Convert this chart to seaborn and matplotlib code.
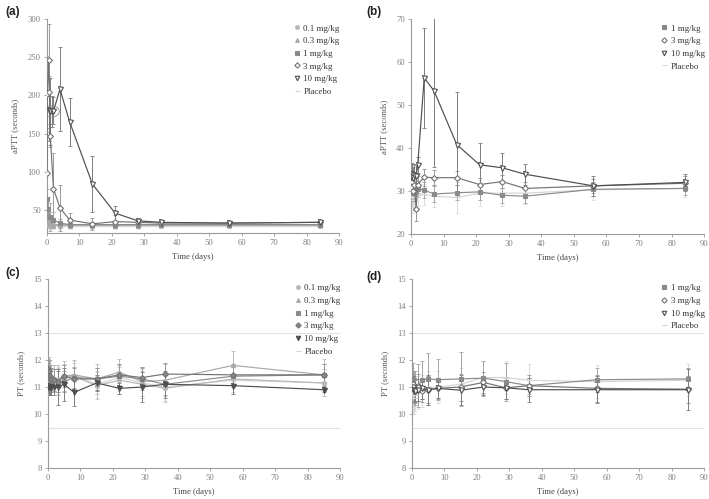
import numpy as np
import pandas as pd
import matplotlib
matplotlib.use("Agg")
import matplotlib.pyplot as plt
import seaborn as sns
from matplotlib.lines import Line2D
from matplotlib.patches import Ellipse

# ---------------- data ----------------
# Panel (a) aPTT, single dose cohorts
a_days_01 = [0, 0.25, 0.5, 1, 2, 4, 7, 14, 21, 28, 35, 56, 84]
a_01 = [30, 31, 30, 30, 30, 30, 30, 30, 30, 30, 30, 30, 30]
a_01_err = [4, 4, 4, 4, 4, 4, 4, 4, 4, 4, 3, 3, 3]
a_days_03 = [0, 0.25, 0.5, 1, 2, 4, 7, 14, 21, 28, 35, 56, 84]
a_03 = [33, 36, 34, 32, 31, 31, 31, 31, 31, 31, 31, 31, 31]
a_03_err = [5, 6, 5, 4, 4, 4, 4, 4, 4, 4, 3, 3, 3]
a_days_1 = [0, 0.25, 1, 2, 4, 7, 14, 21, 28, 35, 56, 84]
a_1 = [65, 52, 41, 37, 33, 31, 31, 31, 31, 31, 31, 31]
a_1_err = [12, 15, 18, 10, 5, 4, 4, 4, 4, 3, 3, 3]
a_days_3 = [0, 0.1, 0.5, 0.75, 1, 2, 4, 7, 14, 21, 28, 35, 56, 84]
a_3 = [98, 202, 246, 205, 147, 78, 53, 37, 32, 35, 34, 33, 33, 34]
a_3_err = [60, 50, 47, 20, 15, 47, 30, 9, 8, 8, 5, 3, 3, 3]
a_days_10 = [0.5, 1, 1.5, 2, 4, 7, 14, 21, 28, 35, 56, 84]
a_10 = [181, 179, 179, 180, 208, 165, 84, 46, 36, 34, 33, 34]
a_10_err = [40, 44, 20, 18, 55, 31, 37, 10, 4, 2, 2, 2]
a_days_pl = [0, 0.25, 0.5, 1, 2, 4, 7, 14, 21, 28, 35, 56, 84]
a_pl = [29, 29, 29, 29, 29, 29, 29, 29, 29, 29, 29, 29, 29]
a_pl_err = [4, 4, 4, 4, 4, 4, 4, 4, 4, 4, 3, 3, 3]

# Panel (b) aPTT, multiple dose cohorts
b_days = [0, 0.25, 0.5, 1, 1.5, 2, 4, 7, 14, 21, 28, 35, 56, 84]
b_1 = [29.5, 30.5, 30.0, 29.5, 30.8, 30.5, 30.2, 29.3, 29.6, 29.8, 29.0, 28.8, 30.4, 30.6]
b_1_err = [1.8, 1.8, 1.8, 1.8, 1.8, 1.8, 1.8, 1.8, 1.8, 1.8, 1.8, 1.6, 1.6, 1.6]
b_3 = [31.0, 32.0, 30.0, 31.5, 25.8, 31.5, 33.2, 33.1, 33.1, 31.5, 32.2, 30.6, 31.2, 31.8]
b_3_err = [2.0, 2.0, 2.0, 2.0, 2.8, 2.0, 2.0, 1.8, 1.6, 1.6, 1.6, 1.6, 1.6, 1.6]
b_10 = [33.5, 34.0, 33.0, 33.8, 33.5, 36.0, 56.3, 53.3, 40.8, 36.1, 35.4, 33.9, 31.2, 32.0]
b_10_err = [2.5, 2.5, 2.5, 2.5, 2.5, 1.8, 11.7, 17.7, 12.3, 5.0, 3.5, 2.4, 2.3, 2.0]
b_pl = [28.5, 29.0, 28.0, 29.0, 28.5, 29.0, 29.2, 28.8, 28.5, 29.5, 29.5, 29.5, 30.3, 30.6]
b_pl_err = [3.0, 3.0, 3.0, 3.0, 3.0, 2.5, 2.5, 2.5, 3.5, 3.0, 3.0, 2.5, 2.5, 2.0]

# Panel (c) PT, single dose cohorts
c_days = [0, 0.25, 0.5, 1, 2, 3, 5, 8, 15, 22, 29, 36, 57, 85]
c_01 = [11.3, 11.2, 11.3, 11.2, 11.3, 11.2, 11.35, 11.4, 11.05, 11.25, 11.1, 10.95, 11.3, 11.15]
c_01_err = [0.5, 0.5, 0.5, 0.5, 0.5, 0.5, 0.5, 0.5, 0.5, 0.5, 0.5, 0.5, 0.5, 0.5]
c_03 = [11.4, 11.5, 11.4, 11.3, 11.3, 11.3, 11.4, 11.45, 11.3, 11.55, 11.2, 11.25, 11.8, 11.45]
c_03_err = [0.6, 0.6, 0.6, 0.5, 0.5, 0.5, 0.55, 0.55, 0.55, 0.5, 0.55, 0.6, 0.55, 0.6]
c_1 = [11.2, 11.4, 11.3, 11.2, 11.25, 11.2, 11.2, 11.35, 11.3, 11.4, 11.3, 11.1, 11.4, 11.45]
c_1_err = [0.4, 0.4, 0.4, 0.4, 0.4, 0.4, 0.4, 0.4, 0.4, 0.4, 0.4, 0.4, 0.4, 0.4]
c_3 = [11.65, 11.6, 11.4, 11.3, 11.25, 11.2, 11.4, 11.3, 11.3, 11.45, 11.35, 11.48, 11.45, 11.45]
c_3_err = [0.4, 0.4, 0.4, 0.4, 0.4, 0.4, 0.4, 0.4, 0.4, 0.4, 0.4, 0.4, 0.4, 0.4]
c_10 = [11.0, 11.05, 11.0, 11.0, 11.0, 11.0, 11.1, 10.8, 11.15, 10.95, 11.0, 11.1, 11.05, 10.9]
c_10_err = [0.2, 0.3, 0.3, 0.3, 0.3, 0.65, 0.6, 0.5, 0.3, 0.2, 0.55, 0.5, 0.3, 0.1]
c_pl = [11.3, 11.35, 11.3, 11.2, 11.3, 11.25, 11.3, 11.45, 11.1, 11.35, 11.15, 11.0, 11.25, 11.15]
c_pl_err = [0.6, 0.6, 0.6, 0.5, 0.5, 0.5, 0.5, 0.5, 0.5, 0.5, 0.5, 0.5, 0.5, 0.5]

# Panel (d) PT, multiple dose cohorts
d_days = [0, 0.25, 0.5, 1, 2, 3, 5, 8, 15, 22, 29, 36, 57, 85]
d_1 = [11.0, 11.3, 11.0, 11.0, 11.05, 11.25, 11.3, 11.27, 11.3, 11.33, 11.2, 11.05, 11.27, 11.3]
d_1_err = [0.6, 0.6, 0.6, 0.6, 0.8, 0.7, 0.95, 0.75, 1.0, 0.65, 0.7, 0.3, 0.45, 0.4]
d_3 = [11.0, 11.1, 10.9, 10.85, 11.0, 10.85, 10.9, 10.95, 11.0, 11.17, 10.97, 11.05, 10.95, 10.92]
d_3_err = [0.5, 0.5, 0.5, 0.5, 0.5, 0.4, 0.5, 0.4, 0.5, 0.4, 0.4, 0.4, 0.5, 0.5]
d_10 = [10.95, 11.0, 10.9, 10.85, 10.9, 10.95, 10.9, 10.95, 10.88, 11.0, 10.97, 10.9, 10.9, 10.9]
d_10_err = [0.3, 0.4, 0.4, 0.4, 0.4, 0.4, 0.55, 0.35, 0.55, 0.3, 0.4, 0.45, 0.5, 0.75]
d_pl = [10.9, 10.7, 10.6, 10.7, 10.8, 10.85, 11.0, 11.0, 11.1, 11.35, 11.35, 11.25, 11.2, 11.25]
d_pl_err = [0.8, 0.7, 0.6, 0.6, 0.6, 0.6, 0.6, 0.6, 0.6, 0.6, 0.6, 0.6, 0.6, 0.6]

labels_single = ["0.1 mg/kg", "0.3 mg/kg", "1 mg/kg", "3 mg/kg", "10 mg/kg", "Placebo"]
labels_multi = ["1 mg/kg", "3 mg/kg", "10 mg/kg", "Placebo"]

# ---------------- styles ----------------
STY = {
    "0.1 mg/kg": dict(color="#b8b8b8", ecolor="#c4c4c4", marker="o", mfc="#b8b8b8", ms=3.0),
    "0.3 mg/kg": dict(color="#a8a8a8", ecolor="#bcbcbc", marker="^", mfc="#a8a8a8", ms=3.0),
    "1 mg/kg": dict(color="#8a8a8a", ecolor="#a4a4a4", marker="s", mfc="#8a8a8a", ms=2.8),
    "3 mg/kg": dict(color="#727272", ecolor="#989898", marker="D", mfc="#ffffff", ms=3.0),
    "10 mg/kg": dict(color="#4e4e4e", ecolor="#7c7c7c", marker="v", mfc="#ffffff", ms=3.6),
    "Placebo": dict(color="#d4d4d4", ecolor="#dadada", marker="_", mfc="#d4d4d4", ms=4.0),
}

sns.set_theme(style="white")
plt.rcParams["font.family"] = ["Liberation Serif", "DejaVu Serif"]

fig = plt.figure(figsize=(7.09, 4.99), dpi=100)
axA = fig.add_axes([0.0663, 0.533, 0.412, 0.429])
axB = fig.add_axes([0.580, 0.531, 0.413, 0.431])
axC = fig.add_axes([0.0677, 0.062, 0.412, 0.379])
axD = fig.add_axes([0.581, 0.062, 0.412, 0.379])


def draw(ax, lab, days, vals, errs, face=None):
    s = STY[lab]
    df = pd.DataFrame({"t": days, "v": vals})
    ax.errorbar(days, vals, yerr=errs, fmt="none", ecolor=s["ecolor"],
                elinewidth=0.7, capsize=1.6, capthick=0.6, zorder=2)
    mfc = s["mfc"] if face is None else face
    sns.lineplot(data=df, x="t", y="v", ax=ax, color=s["color"], lw=0.85,
                 marker=s["marker"], markersize=s["ms"], markerfacecolor=mfc,
                 markeredgecolor=s["color"], markeredgewidth=0.8,
                 legend=False, zorder=3, errorbar=None, sort=False)


def style(ax, ylim, yticks, ylabel):
    ax.set_xlim(0, 90)
    ax.set_ylim(*ylim)
    ax.set_xticks(range(0, 91, 10))
    ax.set_yticks(yticks)
    for sp in ["top", "right"]:
        ax.spines[sp].set_visible(False)
    for sp in ["left", "bottom"]:
        ax.spines[sp].set_color("#9a9a9a")
        ax.spines[sp].set_linewidth(0.8)
    ax.tick_params(axis="both", which="major", length=2.5, width=0.6,
                   colors="#9a9a9a", labelsize=6.2, labelcolor="#808080",
                   direction="out", bottom=True, left=True, pad=2)
    ax.set_xlabel("Time (days)", fontsize=6.2, color="#444444", labelpad=4)
    ax.set_ylabel(ylabel, fontsize=6.2, color="#555555", labelpad=6)
    ax.set_facecolor("white")
    ax.grid(False)


def legend(ax, labs, face_map=None):
    hs = []
    for lab in labs:
        s = STY[lab]
        mfc = s["mfc"] if not face_map or lab not in face_map else face_map[lab]
        hs.append(Line2D([], [], ls="none", marker=s["marker"], color=s["color"],
                         markerfacecolor=mfc, markeredgecolor=s["color"],
                         markersize=s["ms"] * 0.9, markeredgewidth=0.8))
    ax.legend(hs, labs, loc="upper right", bbox_to_anchor=(1.02, 1.0), frameon=False,
              fontsize=6.4, handlelength=0.8, handletextpad=0.3,
              labelspacing=0.5, borderaxespad=0.2, labelcolor="#333333")


# (a)
draw(axA, "Placebo", a_days_pl, a_pl, a_pl_err)
draw(axA, "0.1 mg/kg", a_days_01, a_01, a_01_err)
draw(axA, "0.3 mg/kg", a_days_03, a_03, a_03_err)
draw(axA, "1 mg/kg", a_days_1, a_1, a_1_err)
draw(axA, "3 mg/kg", a_days_3, a_3, a_3_err)
draw(axA, "10 mg/kg", a_days_10, a_10, a_10_err)
axA.add_patch(Ellipse((1.2, 179), 5.2, 15, fill=False, ec="#8a8a8a", lw=0.6, zorder=4))
style(axA, (20, 300), [50, 100, 150, 200, 250, 300], "aPTT (seconds)")
legend(axA, labels_single)

# (b)
draw(axB, "Placebo", b_days, b_pl, b_pl_err)
draw(axB, "1 mg/kg", b_days, b_1, b_1_err)
draw(axB, "3 mg/kg", b_days, b_3, b_3_err)
draw(axB, "10 mg/kg", b_days, b_10, b_10_err)
style(axB, (20, 70), [20, 30, 40, 50, 60, 70], "aPTT (seconds)")
legend(axB, labels_multi)

# (c)
for ax in (axC, axD):
    ax.axhline(13, color="#e2e2e2", lw=0.8, zorder=1)
    ax.axhline(9.5, color="#e2e2e2", lw=0.8, zorder=1)
draw(axC, "Placebo", c_days, c_pl, c_pl_err)
draw(axC, "0.1 mg/kg", c_days, c_01, c_01_err)
draw(axC, "0.3 mg/kg", c_days, c_03, c_03_err)
draw(axC, "1 mg/kg", c_days, c_1, c_1_err)
draw(axC, "3 mg/kg", c_days, c_3, c_3_err, face="#8a8a8a")
draw(axC, "10 mg/kg", c_days, c_10, c_10_err, face="#4e4e4e")
style(axC, (8, 15), list(range(8, 16)), "PT (seconds)")
legend(axC, labels_single, {"3 mg/kg": "#8a8a8a", "10 mg/kg": "#4e4e4e"})

# (d)
draw(axD, "Placebo", d_days, d_pl, d_pl_err)
draw(axD, "1 mg/kg", d_days, d_1, d_1_err)
draw(axD, "3 mg/kg", d_days, d_3, d_3_err)
draw(axD, "10 mg/kg", d_days, d_10, d_10_err)
style(axD, (8, 15), list(range(8, 16)), "PT (seconds)")
legend(axD, labels_multi)

# panel letters
for txt, x, y in [("(a)", 0.008, 0.975), ("(b)", 0.517, 0.975),
                  ("(c)", 0.008, 0.452), ("(d)", 0.517, 0.445)]:
    fig.text(x, y, txt, fontsize=8.5, fontweight="bold", family="Liberation Sans",
             color="#222222", va="center", ha="left")

fig.savefig("out.png", dpi=100)
